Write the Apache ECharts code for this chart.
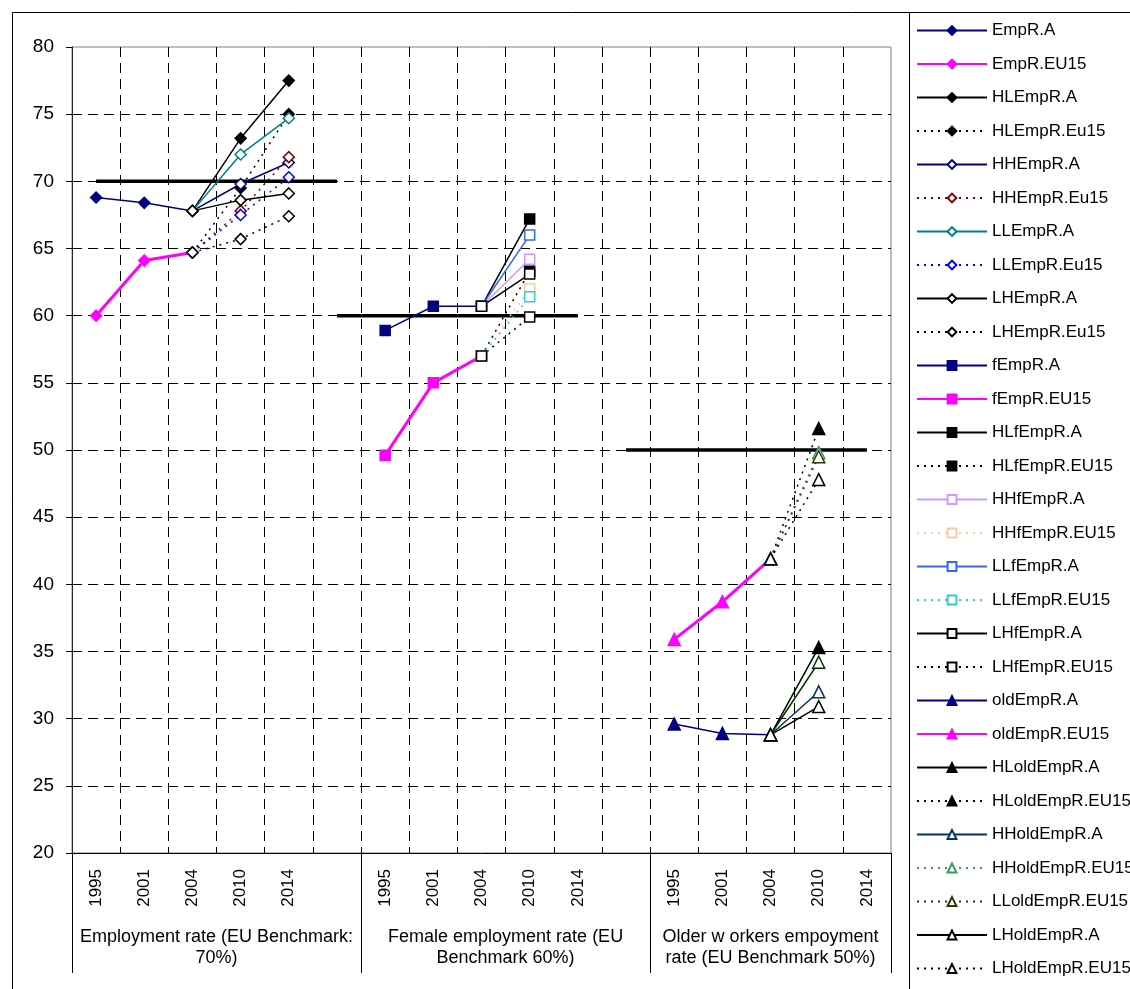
<!DOCTYPE html>
<html><head><meta charset="utf-8">
<script src="https://cdn.jsdelivr.net/npm/echarts@6/dist/echarts.min.js"></script>
<style>html,body{margin:0;padding:0;background:#fff}#c{width:1130px;height:989px}</style>
</head><body><div id="c"></div>
<script>
// ---- categories / axis labels ----
const categories = ['1995','2001','2004','2010','2014','','1995','2001','2004','2010','2014','','1995','2001','2004','2010','2014'];
const groupLabels = ['Employment rate (EU Benchmark:\n70%)', 'Female employment rate (EU\nBenchmark 60%)', 'Older w orkers empoyment\nrate (EU Benchmark 50%)'];
const groupCenters = [3, 9, 14.5];
const groupBounds = [0, 6, 12, 17];
const yMin = 20, yMax = 80, yStep = 5;

// ---- Employment rate (1995, 2001, 2004 start at index 0; 2004, 2010, 2014 start at index 2) ----
const EmpR_A      = [68.8, 68.4, 67.8];
const EmpR_EU15   = [60.0, 64.1, 64.7];
const HLEmpR_A    = [67.8, 73.2, 77.5];
const HLEmpR_Eu15 = [64.7, 69.5, 75.0];
const HHEmpR_A    = [67.8, 69.8, 71.4];
const HHEmpR_Eu15 = [64.7, 67.8, 71.8];
const LLEmpR_A    = [67.8, 72.0, 74.7];
const LLEmpR_Eu15 = [64.7, 67.5, 70.3];
const LHEmpR_A    = [67.8, 68.6, 69.1];
const LHEmpR_Eu15 = [64.7, 65.7, 67.4];
// ---- Female employment (1995, 2001, 2004 at index 6; 2004, 2010 at index 8) ----
const fEmpR_A       = [58.9, 60.7, 60.7];
const fEmpR_EU15    = [49.6, 55.0, 57.0];
const HLfEmpR_A     = [60.7, 67.2];
const HLfEmpR_EU15  = [57.0, 63.3];
const HHfEmpR_A     = [60.7, 64.2];
const HHfEmpR_EU15  = [57.0, 62.0];
const LLfEmpR_A     = [60.7, 66.0];
const LLfEmpR_EU15  = [57.0, 61.4];
const LHfEmpR_A     = [60.7, 63.1];
const LHfEmpR_EU15  = [57.0, 59.9];
// ---- Older workers (1995, 2001, 2004 at index 12; 2004, 2010 at index 14) ----
const oldEmpR_A        = [29.6, 28.9, 28.8];
const oldEmpR_EU15     = [35.9, 38.7, 41.9];
const HLoldEmpR_A      = [28.8, 35.3];
const HLoldEmpR_EU15   = [41.9, 51.6];
const HHoldEmpR_A      = [28.8, 32.0];
const HHoldEmpR_EU15   = [41.9, 49.8];
const LLEmpR_A_old     = [28.8, 34.2];
const LLoldEmpR_EU15   = [41.9, 49.5];
const LHoldEmpR_A      = [28.8, 30.9];
const LHoldEmpR_EU15   = [41.9, 47.8];
// ---- Benchmarks ----
const bench70 = [70, 70, 70, 70, 70, 70];   // from index 0
const bench60 = [60, 60, 60, 60, 60, 60];   // from index 5
const bench50 = [50, 50, 50, 50, 50, 50];   // from index 11

const N = categories.length;
function place(start, vals) { const a = new Array(N).fill(null); vals.forEach((v, i) => a[start + i] = v); return a; }

// name, start, data, color, width, dotted, symbol, filled
const defs = [
  ['EmpR.A', 0, EmpR_A, '#000080', 1.5, false, 'diamond', true],
  ['EmpR.EU15', 0, EmpR_EU15, '#FF00FF', 3, false, 'diamond', true],
  ['HLEmpR.A', 2, HLEmpR_A, '#000000', 1.5, false, 'diamond', true],
  ['HLEmpR.Eu15', 2, HLEmpR_Eu15, '#000000', 1.5, true, 'diamond', true],
  ['HHEmpR.A', 2, HHEmpR_A, '#000080', 1.5, false, 'diamond', false],
  ['HHEmpR.Eu15', 2, HHEmpR_Eu15, '#800000', 1.5, true, 'diamond', false],
  ['LLEmpR.A', 2, LLEmpR_A, '#008080', 1.5, false, 'diamond', false],
  ['LLEmpR.Eu15', 2, LLEmpR_Eu15, '#0000FF', 1.5, true, 'diamond', false],
  ['LHEmpR.A', 2, LHEmpR_A, '#000000', 1.5, false, 'diamond', false],
  ['LHEmpR.Eu15', 2, LHEmpR_Eu15, '#000000', 1.5, true, 'diamond', false],
  ['fEmpR.A', 6, fEmpR_A, '#000080', 1.5, false, 'rect', true],
  ['fEmpR.EU15', 6, fEmpR_EU15, '#FF00FF', 3, false, 'rect', true],
  ['HLfEmpR.A', 8, HLfEmpR_A, '#000000', 1.5, false, 'rect', true],
  ['HLfEmpR.EU15', 8, HLfEmpR_EU15, '#000000', 1.5, true, 'rect', true],
  ['HHfEmpR.A', 8, HHfEmpR_A, '#CC99FF', 1.5, false, 'rect', false],
  ['HHfEmpR.EU15', 8, HHfEmpR_EU15, '#FFCC99', 1.5, true, 'rect', false],
  ['LLfEmpR.A', 8, LLfEmpR_A, '#3366FF', 1.5, false, 'rect', false],
  ['LLfEmpR.EU15', 8, LLfEmpR_EU15, '#33CCCC', 1.5, true, 'rect', false],
  ['LHfEmpR.A', 8, LHfEmpR_A, '#000000', 1.5, false, 'rect', false],
  ['LHfEmpR.EU15', 8, LHfEmpR_EU15, '#000000', 1.5, true, 'rect', false],
  ['oldEmpR.A', 12, oldEmpR_A, '#000080', 1.5, false, 'triangle', true],
  ['oldEmpR.EU15', 12, oldEmpR_EU15, '#FF00FF', 3, false, 'triangle', true],
  ['HLoldEmpR.A', 14, HLoldEmpR_A, '#000000', 1.5, false, 'triangle', true],
  ['HLoldEmpR.EU15', 14, HLoldEmpR_EU15, '#000000', 1.5, true, 'triangle', true],
  ['HHoldEmpR.A', 14, HHoldEmpR_A, '#003366', 1.5, false, 'triangle', false],
  ['HHoldEmpR.EU15', 14, HHoldEmpR_EU15, '#339966', 1.5, true, 'triangle', false],
  ['LLEmpR.A', 14, LLEmpR_A_old, '#003300', 1.5, false, 'triangle', false],
  ['LLoldEmpR.EU15', 14, LLoldEmpR_EU15, '#333300', 1.5, true, 'triangle', false],
  ['LHoldEmpR.A', 14, LHoldEmpR_A, '#000000', 1.5, false, 'triangle', false],
  ['LHoldEmpR.EU15', 14, LHoldEmpR_EU15, '#000000', 1.5, true, 'triangle', false]
];

const FONT = '"Liberation Sans", Arial, sans-serif';

const benchSeries = [[0, bench70], [5, bench60], [11, bench50]].map((b, i) => ({
  name: 'bench' + i, type: 'line', data: place(b[0], b[1]), symbol: 'none',
  lineStyle: { color: '#000', width: 3.5 }, itemStyle: { color: '#000' }, z: 1, silent: true
}));

const mainSeries = defs.map(d => ({
  name: d[0], type: 'line', data: place(d[1], d[2]),
  symbol: d[6], symbolSize: d[6] === 'triangle' ? 12 : (d[6] === 'rect' ? 10 : 11),
  lineStyle: { color: d[3], width: d[4], type: d[5] ? [2, 5] : 'solid' },
  itemStyle: { color: d[7] ? d[3] : '#FFFFFF', borderColor: d[3], borderWidth: 1.5, opacity: 1 },
  z: 2
}));

const chart = echarts.init(document.getElementById('c'), null, { renderer: 'canvas' });
chart.setOption({
  animation: false,
  backgroundColor: '#fff',
  textStyle: { fontFamily: FONT },
  grid: { left: 72, right: 239, top: 47, bottom: 136, show: true, borderColor: '#808080', borderWidth: 1 },
  legend: {
    data: defs.map(d => d[0]),
    orient: 'vertical', left: 911, top: 17,
    itemWidth: 70, itemHeight: 11, itemGap: 16.5,
    textStyle: { fontSize: 17, color: '#000', fontFamily: FONT },
    selectedMode: false
  },
  xAxis: [{
    type: 'category', data: categories, boundaryGap: true, position: 'bottom',
    axisLine: { lineStyle: { color: '#000', width: 1 } },
    axisTick: { interval: 0, length: 64, lineStyle: { color: '#000' } },
    axisLabel: { interval: 0, rotate: 90, fontSize: 17, color: '#000', margin: 16, fontFamily: FONT },
    splitLine: { show: true, interval: 0, showMinLine: false, showMaxLine: false, lineStyle: { color: '#000', type: [10, 6], width: 1 } }
  }, {
    type: 'value', min: 0, max: 17, position: 'bottom', gridIndex: 0,
    axisLine: { show: false },
    axisTick: { show: true, customValues: groupBounds, length: 120, lineStyle: { color: '#000' } },
    axisLabel: {
      show: true, customValues: groupCenters, margin: 74, fontSize: 18, lineHeight: 21, color: '#000', fontFamily: FONT,
      formatter: v => { const i = groupCenters.indexOf(v); return i >= 0 ? groupLabels[i] : ''; }
    },
    splitLine: { show: false }
  }],
  yAxis: {
    type: 'value', min: yMin, max: yMax, interval: yStep,
    axisLine: { show: true, lineStyle: { color: '#222', width: 1 } },
    axisTick: { show: true, inside: false, length: 6, lineStyle: { color: '#000' } },
    axisLabel: { fontSize: 19, color: '#000', margin: 18, fontFamily: FONT },
    splitLine: { show: true, showMinLine: false, showMaxLine: false, lineStyle: { color: '#000', type: [10, 6], width: 1 } }
  },
  graphic: [
    { type: 'rect', shape: { x: 12.5, y: 12.5, width: 1300, height: 1300 }, style: { fill: 'none', stroke: '#000', lineWidth: 1 }, silent: true, z: -10 },
    { type: 'line', shape: { x1: 909.5, y1: 12, x2: 909.5, y2: 989 }, style: { stroke: '#000', lineWidth: 1 }, silent: true }
  ],
  series: benchSeries.concat(mainSeries)
});
</script>
</body></html>
